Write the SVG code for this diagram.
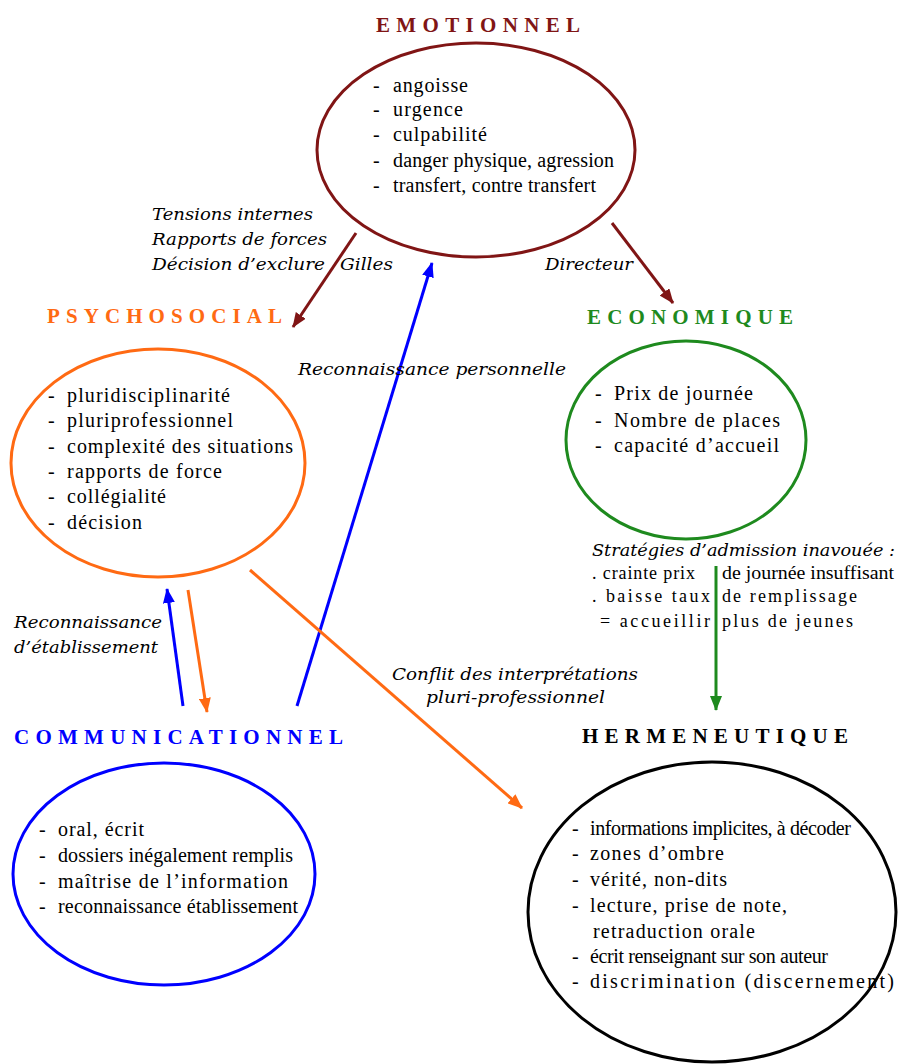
<svg xmlns="http://www.w3.org/2000/svg" width="898" height="1064" viewBox="0 0 898 1064">
<style>
.title{font-family:"Liberation Serif",serif;font-weight:bold;font-size:21px}
.body{font-family:"Liberation Serif",serif;font-size:20px;fill:#000}
.lab{font-family:"DejaVu Serif","Liberation Serif",serif;font-style:italic;font-size:17px;fill:#000}
.ell{fill:none;stroke-width:3}
.con{fill:none;stroke-width:3}
</style>
<defs>
<marker id="ah-red" markerUnits="userSpaceOnUse" markerWidth="15" markerHeight="12" refX="14" refY="6" orient="auto"><path d="M0,0 L15,6 L0,12 z" fill="#801515"/></marker>
<marker id="ah-blue" markerUnits="userSpaceOnUse" markerWidth="15" markerHeight="12" refX="14" refY="6" orient="auto"><path d="M0,0 L15,6 L0,12 z" fill="#0000ff"/></marker>
<marker id="ah-orange" markerUnits="userSpaceOnUse" markerWidth="15" markerHeight="12" refX="14" refY="6" orient="auto"><path d="M0,0 L15,6 L0,12 z" fill="#ff6a13"/></marker>
<marker id="ah-green" markerUnits="userSpaceOnUse" markerWidth="15" markerHeight="12" refX="14" refY="6" orient="auto"><path d="M0,0 L15,6 L0,12 z" fill="#1e8a1e"/></marker>
</defs>
<rect width="898" height="1064" fill="#fff"/>

<g id="node-emotionnel">
<text class="title" x="376" y="32" fill="#801515" textLength="204" lengthAdjust="spacing">EMOTIONNEL</text>
<ellipse class="ell" cx="476" cy="150" rx="159" ry="107" stroke="#801515"/>
<g class="body">
<text x="373" y="92">-</text><text x="393" y="92" textLength="75" lengthAdjust="spacing">angoisse</text>
<text x="373" y="116">-</text><text x="393" y="116" textLength="70" lengthAdjust="spacing">urgence</text>
<text x="373" y="141">-</text><text x="393" y="141" textLength="94" lengthAdjust="spacing">culpabilité</text>
<text x="373" y="167">-</text><text x="393" y="167" textLength="221" lengthAdjust="spacing">danger physique, agression</text>
<text x="373" y="192">-</text><text x="393" y="192" textLength="203" lengthAdjust="spacing">transfert, contre transfert</text>
</g>
</g>

<g id="node-psychosocial">
<text class="title" x="47" y="323" fill="#ff6a13" textLength="235" lengthAdjust="spacing">PSYCHOSOCIAL</text>
<ellipse class="ell" cx="158" cy="463" rx="147" ry="114" stroke="#ff6a13"/>
<g class="body">
<text x="48" y="402">-</text><text x="67" y="402" textLength="163" lengthAdjust="spacing">pluridisciplinarité</text>
<text x="48" y="427">-</text><text x="67" y="427" textLength="166" lengthAdjust="spacing">pluriprofessionnel</text>
<text x="48" y="453">-</text><text x="67" y="453" textLength="226" lengthAdjust="spacing">complexité des situations</text>
<text x="48" y="478">-</text><text x="67" y="478" textLength="155" lengthAdjust="spacing">rapports de force</text>
<text x="48" y="503">-</text><text x="67" y="503" textLength="99" lengthAdjust="spacing">collégialité</text>
<text x="48" y="529">-</text><text x="67" y="529" textLength="75" lengthAdjust="spacing">décision</text>
</g>
</g>

<g id="node-economique">
<text class="title" x="587" y="324" fill="#1e8a1e" textLength="206" lengthAdjust="spacing">ECONOMIQUE</text>
<ellipse class="ell" cx="686" cy="440" rx="120" ry="99" stroke="#1e8a1e"/>
<g class="body">
<text x="595" y="400">-</text><text x="614" y="400" textLength="139" lengthAdjust="spacing">Prix de journée</text>
<text x="595" y="427">-</text><text x="614" y="427" textLength="166" lengthAdjust="spacing">Nombre de places</text>
<text x="595" y="452">-</text><text x="614" y="452" textLength="165" lengthAdjust="spacing">capacité d’accueil</text>
</g>
</g>

<g id="node-communicationnel">
<text class="title" x="14" y="744" fill="#0000ff" textLength="329" lengthAdjust="spacing">COMMUNICATIONNEL</text>
<ellipse class="ell" cx="164" cy="874" rx="151" ry="111" stroke="#0000ff"/>
<g class="body">
<text x="39" y="836">-</text><text x="58" y="836" textLength="86" lengthAdjust="spacing">oral, écrit</text>
<text x="39" y="862">-</text><text x="58" y="862" textLength="235" lengthAdjust="spacing">dossiers inégalement remplis</text>
<text x="39" y="888">-</text><text x="58" y="888" textLength="230" lengthAdjust="spacing">maîtrise de l’information</text>
<text x="39" y="913">-</text><text x="58" y="913" textLength="240" lengthAdjust="spacing">reconnaissance établissement</text>
</g>
</g>

<g id="node-hermeneutique">
<text class="title" x="582" y="743" fill="#000" textLength="266" lengthAdjust="spacing">HERMENEUTIQUE</text>
<ellipse class="ell" cx="712" cy="912" rx="184" ry="150" stroke="#000"/>
<g class="body">
<text x="572" y="835">-</text><text x="590" y="835" textLength="261" lengthAdjust="spacing">informations implicites, à décoder</text>
<text x="572" y="860">-</text><text x="590" y="860" textLength="134" lengthAdjust="spacing">zones d’ombre</text>
<text x="572" y="886">-</text><text x="590" y="886" textLength="137" lengthAdjust="spacing">vérité, non-dits</text>
<text x="572" y="912">-</text><text x="590" y="912" textLength="197" lengthAdjust="spacing">lecture, prise de note,</text>
<text x="593" y="938" textLength="162" lengthAdjust="spacing">retraduction orale</text>
<text x="572" y="963">-</text><text x="590" y="963" textLength="238" lengthAdjust="spacing">écrit renseignant sur son auteur</text>
<text x="572" y="988">-</text><text x="590" y="988" textLength="304" lengthAdjust="spacing">discrimination (discernement)</text>
</g>
</g>

<g id="connectors">
<line class="con" x1="356" y1="233" x2="293" y2="327" stroke="#801515" marker-end="url(#ah-red)"/>
<line class="con" x1="612" y1="223" x2="673" y2="303" stroke="#801515" marker-end="url(#ah-red)"/>
<line class="con" x1="297" y1="706" x2="432" y2="263" stroke="#0000ff" marker-end="url(#ah-blue)"/>
<line class="con" x1="183" y1="706" x2="167" y2="589" stroke="#0000ff" marker-end="url(#ah-blue)"/>
<line class="con" x1="188" y1="590" x2="207" y2="712" stroke="#ff6a13" marker-end="url(#ah-orange)"/>
<line class="con" x1="250" y1="570" x2="522" y2="808" stroke="#ff6a13" marker-end="url(#ah-orange)"/>
<line class="con" x1="716" y1="566" x2="716" y2="710" stroke="#1e8a1e" marker-end="url(#ah-green)"/>
</g>

<g id="labels">
<text class="lab" x="152" y="220" textLength="161" lengthAdjust="spacingAndGlyphs">Tensions internes</text>
<text class="lab" x="152" y="245" textLength="175" lengthAdjust="spacingAndGlyphs">Rapports de forces</text>
<text class="lab" x="152" y="270"><tspan textLength="173" lengthAdjust="spacingAndGlyphs">Décision d’exclure</tspan><tspan x="340" textLength="53" lengthAdjust="spacingAndGlyphs">Gilles</tspan></text>
<text class="lab" x="545" y="270" textLength="88" lengthAdjust="spacingAndGlyphs">Directeur</text>
<text class="lab" x="298" y="375" textLength="268" lengthAdjust="spacingAndGlyphs">Reconnaissance personnelle</text>
<text class="lab" x="14" y="628" textLength="148" lengthAdjust="spacingAndGlyphs">Reconnaissance</text>
<text class="lab" x="14" y="653" textLength="144" lengthAdjust="spacingAndGlyphs">d’établissement</text>
<text class="lab" x="392" y="680" textLength="246" lengthAdjust="spacingAndGlyphs">Conflit des interprétations</text>
<text class="lab" x="426" y="703" textLength="179" lengthAdjust="spacingAndGlyphs">pluri-professionnel</text>
<text class="lab" x="592" y="556" textLength="303" lengthAdjust="spacingAndGlyphs">Stratégies d’admission inavouée :</text>
<g class="body" style="font-size:18px">
<text x="592" y="579" textLength="103" lengthAdjust="spacing">. crainte prix</text>
<text x="722" y="579" textLength="172" lengthAdjust="spacingAndGlyphs">de journée insuffisant</text>
<text x="592" y="602" textLength="118" lengthAdjust="spacing">. baisse taux</text>
<text x="722" y="602" textLength="135" lengthAdjust="spacing">de remplissage</text>
<text x="600" y="627" textLength="110" lengthAdjust="spacing">= accueillir</text>
<text x="722" y="627" textLength="131" lengthAdjust="spacing">plus de jeunes</text>
</g>
</g>
</svg>
